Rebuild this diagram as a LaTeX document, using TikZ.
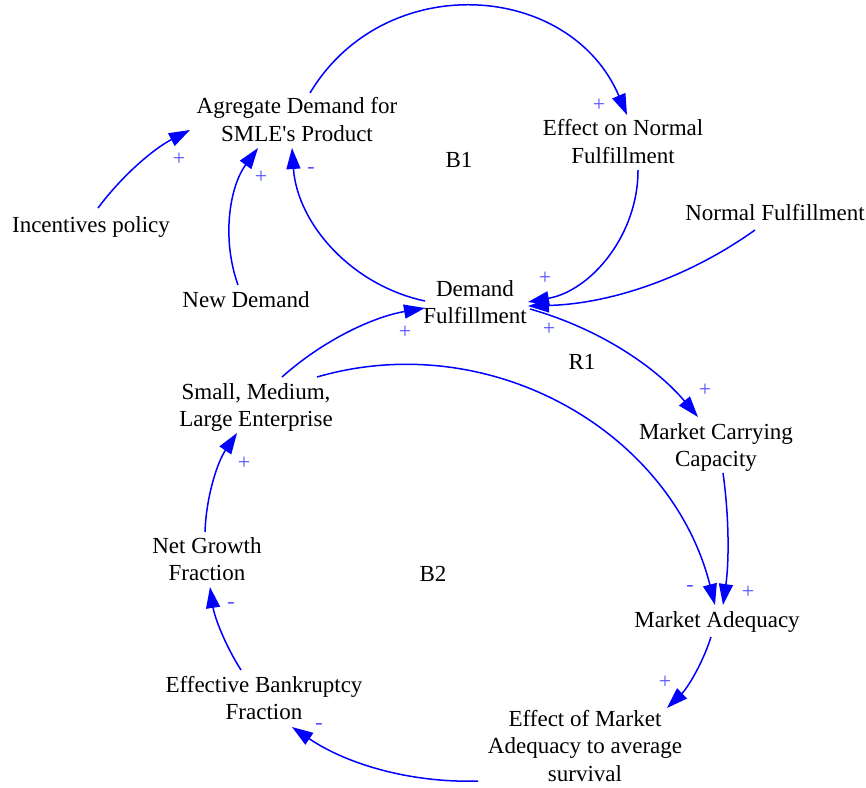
\documentclass[tikz,border=0pt]{standalone}
\usepackage{fontspec}
\setmainfont{Liberation Serif}
\usetikzlibrary{arrows.meta}
\definecolor{linkblue}{RGB}{0,0,255}
\definecolor{polblue}{RGB}{80,80,255}
\begin{document}
\begin{tikzpicture}[x=1pt,y=-1pt,
  var/.style={anchor=base, align=center, inner sep=0pt,
    font=\fontsize{23}{27.5}\selectfont},
  pol/.style={text=polblue, inner sep=0pt, font=\fontsize{22}{22}\selectfont},
  link/.style={draw=linkblue, line width=1.5pt,
    -{Triangle[length=21pt,width=14pt]}}]
\useasboundingbox (0,0) rectangle (866,787);

% variables (a multi-line node sits on the baseline of its last line)
\node[var] (agg) at (297,141)   {Agregate Demand for\\SMLE\textquotesingle s Product};
\node[var] (enf) at (623,163)   {Effect on Normal\\Fulfillment};
\node[var] (nf)  at (775,220)   {Normal Fulfillment};
\node[var] (inc) at (91,232)    {Incentives policy};
\node[var] (nd)  at (246,307)   {New Demand};
\node[var] (df)  at (475,323.5) {Demand\\Fulfillment};
\node[var] (sml) at (256,426.5) {Small, Medium,\\Large Enterprise};
\node[var] (mcc) at (716,466.5) {Market Carrying\\Capacity};
\node[var] (ngf) at (207,580.5) {Net Growth\\Fraction};
\node[var] (ma)  at (717,627)   {Market Adequacy};
\node[var] (ebf) at (264,719.5) {Effective Bankruptcy\\Fraction};
\node[var] (ema) at (585,781)   {Effect of Market\\Adequacy to average\\survival};

% loop markers
\node[var] (b1) at (459,167) {B1};
\node[var] (r1) at (582,369) {R1};
\node[var] (b2) at (433,581) {B2};

% causal links
\draw[link] ([shift={(13,-48)}]agg.base) to[bend left=63, looseness=1.17] ([shift={(4,-48)}]enf.base);
\draw[link] ([shift={(15,7)}]enf.base) to[bend left=40, looseness=0.96] ([shift={(53,-21.5)}]df.base);
\draw[link] ([shift={(-20,10)}]nf.base) to[bend left=17, looseness=0.88] ([shift={(53,-17.5)}]df.base);
\draw[link] ([shift={(-50,-22.5)}]df.base) to[bend left=37, looseness=0.95] ([shift={(-5,7)}]agg.base);
\draw[link] ([shift={(-8,-22)}]nd.base) to[bend left=28, looseness=0.9] ([shift={(-39,7)}]agg.base);
\draw[link] ([shift={(7,-24)}]inc.base) to[bend left=13, looseness=0.87] ([shift={(-107,-11)}]agg.base);
\draw[link] ([shift={(26,-49.5)}]sml.base) to[bend left=16, looseness=0.87] ([shift={(-50,-15.5)}]df.base);
\draw[link] ([shift={(55,-14.5)}]df.base) to[bend left=17, looseness=0.88] ([shift={(-18,-49.5)}]mcc.base);
\draw[link] ([shift={(61,-49.5)}]sml.base) to[bend left=46, looseness=1.0] ([shift={(-2,-22)}]ma.base);
\draw[link] ([shift={(7,6.5)}]mcc.base) to[bend left=8, looseness=0.86] ([shift={(6,-22)}]ma.base);
\draw[link] ([shift={(-6,10)}]ma.base) to[bend left=14, looseness=0.87] ([shift={(82,-73)}]ema.base);
\draw[link] ([shift={(-107,0)}]ema.base) to[bend left=18, looseness=0.88] ([shift={(28,7.5)}]ebf.base);
\draw[link] ([shift={(-23,-49.5)}]ebf.base) to[bend left=12, looseness=0.87] ([shift={(3,6.5)}]ngf.base);
\draw[link] ([shift={(-2,-48.5)}]ngf.base) to[bend left=16, looseness=0.87] ([shift={(-19,6.5)}]sml.base);

% polarities
\node[pol] (p1)  at (599,105) {+};
\node[pol] (p2)  at (545,278) {+};
\node[pol] (p3)  at (549,329) {+};
\node[pol] (p4)  at (311,170) {-};
\node[pol] (p5)  at (261,177) {+};
\node[pol] (p6)  at (179,159) {+};
\node[pol] (p7)  at (405,332) {+};
\node[pol] (p8)  at (705,390) {+};
\node[pol] (p9)  at (690,588) {-};
\node[pol] (p10) at (748,592) {+};
\node[pol] (p11) at (665,682) {+};
\node[pol] (p12) at (319,726) {-};
\node[pol] (p13) at (231,605) {-};
\node[pol] (p14) at (244,463) {+};
\end{tikzpicture}
\end{document}
